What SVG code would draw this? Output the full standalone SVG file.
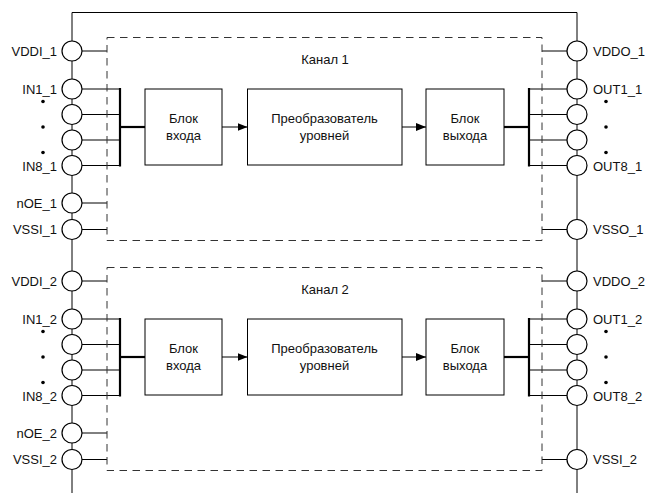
<svg xmlns="http://www.w3.org/2000/svg" width="647" height="493" viewBox="0 0 647 493">
<defs>
<style>
.ln{stroke:#000;stroke-width:1;fill:none}
.bus{stroke:#000;stroke-width:2.2;fill:none}
.dash{stroke:#333;stroke-width:1;fill:none;stroke-dasharray:7.5 5.5}
.pin{fill:#fff;stroke:#000;stroke-width:1.2}
.blk{fill:#fff;stroke:#000;stroke-width:1}
.t{font-family:"Liberation Sans",Arial,sans-serif;font-size:13px;fill:#111}
.l{text-anchor:end}
.c{text-anchor:middle}
.dot{fill:#000}
</style>
<marker id="ah" markerWidth="10" markerHeight="8" refX="10" refY="4" orient="auto" markerUnits="userSpaceOnUse">
<path d="M0,0 L10,4 L0,8 Z" fill="#000"/>
</marker>
</defs>
<rect width="647" height="493" fill="#fff"/>

<g id="connectors">
<path class="ln" d="M72,493 V12.5 H577 V493"/>
<!-- channel 1 -->
<path class="ln" d="M82,51 H107 M82,203 H107 M82,229.5 H107"/>
<path class="ln" d="M82,89 H120 M82,114.5 H120 M82,140 H120 M82,165.5 H120"/>
<path class="bus" d="M120,88 V166.5"/>
<path class="bus" d="M120,127 H145"/>
<path class="ln" d="M222,127 H247.5" marker-end="url(#ah)"/>
<path class="ln" d="M402,127 H426" marker-end="url(#ah)"/>
<path class="bus" d="M504,127 H529"/>
<path class="bus" d="M529,88 V166.5"/>
<path class="ln" d="M529,89 H567 M529,114.5 H567 M529,140 H567 M529,165.5 H567"/>
<path class="ln" d="M542,51 H567 M542,229.5 H567"/>
<!-- channel 2 -->
<path class="ln" d="M82,281 H107 M82,433 H107 M82,459.5 H107"/>
<path class="ln" d="M82,319 H120 M82,344.5 H120 M82,370 H120 M82,395.5 H120"/>
<path class="bus" d="M120,318 V396.5"/>
<path class="bus" d="M120,357 H145"/>
<path class="ln" d="M222,357 H247.5" marker-end="url(#ah)"/>
<path class="ln" d="M402,357 H426" marker-end="url(#ah)"/>
<path class="bus" d="M504,357 H529"/>
<path class="bus" d="M529,318 V396.5"/>
<path class="ln" d="M529,319 H567 M529,344.5 H567 M529,370 H567 M529,395.5 H567"/>
<path class="ln" d="M542,281 H567 M542,459.5 H567"/>
</g>

<g id="channel1">
<rect class="dash" x="107" y="37.5" width="435" height="203"/>
<text class="t c" x="325" y="64">Канал 1</text>
</g>
<g id="channel2">
<rect class="dash" x="107" y="267.5" width="435" height="203"/>
<text class="t c" x="325" y="294">Канал 2</text>
</g>

<g id="in_block_1"><rect class="blk" x="145" y="89" width="77" height="76"/><text class="t c" x="183.5" y="122.5">Блок</text><text class="t c" x="183.5" y="139.5">входа</text></g>
<g id="conv_1"><rect class="blk" x="247.5" y="89" width="154.5" height="76"/><text class="t c" x="324.5" y="122.5">Преобразователь</text><text class="t c" x="324.5" y="139.5">уровней</text></g>
<g id="out_block_1"><rect class="blk" x="426" y="89" width="78" height="76"/><text class="t c" x="465" y="122.5">Блок</text><text class="t c" x="465" y="139.5">выхода</text></g>

<g id="in_block_2"><rect class="blk" x="145" y="319" width="77" height="76"/><text class="t c" x="183.5" y="352.5">Блок</text><text class="t c" x="183.5" y="369.5">входа</text></g>
<g id="conv_2"><rect class="blk" x="247.5" y="319" width="154.5" height="76"/><text class="t c" x="324.5" y="352.5">Преобразователь</text><text class="t c" x="324.5" y="369.5">уровней</text></g>
<g id="out_block_2"><rect class="blk" x="426" y="319" width="78" height="76"/><text class="t c" x="465" y="352.5">Блок</text><text class="t c" x="465" y="369.5">выхода</text></g>

<!-- left pins channel 1 -->
<g id="VDDI_1"><circle class="pin" cx="72" cy="51" r="10"/><text class="t l" x="57" y="56">VDDI_1</text></g>
<g id="IN1_1"><circle class="pin" cx="72" cy="89" r="10"/><text class="t l" x="57" y="94">IN1_1</text></g>
<g id="IN2_1"><circle class="pin" cx="72" cy="114.5" r="10"/></g>
<g id="IN3_1"><circle class="pin" cx="72" cy="140" r="10"/></g>
<g id="IN8_1"><circle class="pin" cx="72" cy="165.5" r="10"/><text class="t l" x="57" y="170.5">IN8_1</text></g>
<g id="nOE_1"><circle class="pin" cx="72" cy="203" r="10"/><text class="t l" x="57" y="207.5">nOE_1</text></g>
<g id="VSSI_1"><circle class="pin" cx="72" cy="229.5" r="10"/><text class="t l" x="57" y="234">VSSI_1</text></g>
<g id="dots_in_1"><circle class="dot" cx="43" cy="101.5" r="1.8"/><circle class="dot" cx="43" cy="127" r="1.8"/><circle class="dot" cx="43" cy="152.5" r="1.8"/></g>

<!-- right pins channel 1 -->
<g id="VDDO_1"><circle class="pin" cx="577" cy="51" r="10"/><text class="t" x="593" y="56">VDDO_1</text></g>
<g id="OUT1_1"><circle class="pin" cx="577" cy="89" r="10"/><text class="t" x="593" y="94">OUT1_1</text></g>
<g id="OUT2_1"><circle class="pin" cx="577" cy="114.5" r="10"/></g>
<g id="OUT3_1"><circle class="pin" cx="577" cy="140" r="10"/></g>
<g id="OUT8_1"><circle class="pin" cx="577" cy="165.5" r="10"/><text class="t" x="593" y="170.5">OUT8_1</text></g>
<g id="VSSO_1"><circle class="pin" cx="577" cy="229.5" r="10"/><text class="t" x="593" y="234">VSSO_1</text></g>
<g id="dots_out_1"><circle class="dot" cx="606" cy="101.5" r="1.8"/><circle class="dot" cx="606" cy="127" r="1.8"/><circle class="dot" cx="606" cy="152.5" r="1.8"/></g>

<!-- left pins channel 2 -->
<g id="VDDI_2"><circle class="pin" cx="72" cy="281" r="10"/><text class="t l" x="57" y="286">VDDI_2</text></g>
<g id="IN1_2"><circle class="pin" cx="72" cy="319" r="10"/><text class="t l" x="57" y="324">IN1_2</text></g>
<g id="IN2_2"><circle class="pin" cx="72" cy="344.5" r="10"/></g>
<g id="IN3_2"><circle class="pin" cx="72" cy="370" r="10"/></g>
<g id="IN8_2"><circle class="pin" cx="72" cy="395.5" r="10"/><text class="t l" x="57" y="400.5">IN8_2</text></g>
<g id="nOE_2"><circle class="pin" cx="72" cy="433" r="10"/><text class="t l" x="57" y="437.5">nOE_2</text></g>
<g id="VSSI_2"><circle class="pin" cx="72" cy="459.5" r="10"/><text class="t l" x="57" y="464">VSSI_2</text></g>
<g id="dots_in_2"><circle class="dot" cx="43" cy="331.5" r="1.8"/><circle class="dot" cx="43" cy="357" r="1.8"/><circle class="dot" cx="43" cy="382.5" r="1.8"/></g>

<!-- right pins channel 2 -->
<g id="VDDO_2"><circle class="pin" cx="577" cy="281" r="10"/><text class="t" x="593" y="286">VDDO_2</text></g>
<g id="OUT1_2"><circle class="pin" cx="577" cy="319" r="10"/><text class="t" x="593" y="324">OUT1_2</text></g>
<g id="OUT2_2"><circle class="pin" cx="577" cy="344.5" r="10"/></g>
<g id="OUT3_2"><circle class="pin" cx="577" cy="370" r="10"/></g>
<g id="OUT8_2"><circle class="pin" cx="577" cy="395.5" r="10"/><text class="t" x="593" y="400.5">OUT8_2</text></g>
<g id="VSSI_2R"><circle class="pin" cx="577" cy="459.5" r="10"/><text class="t" x="593" y="464">VSSI_2</text></g>
<g id="dots_out_2"><circle class="dot" cx="606" cy="331.5" r="1.8"/><circle class="dot" cx="606" cy="357" r="1.8"/><circle class="dot" cx="606" cy="382.5" r="1.8"/></g>
</svg>
